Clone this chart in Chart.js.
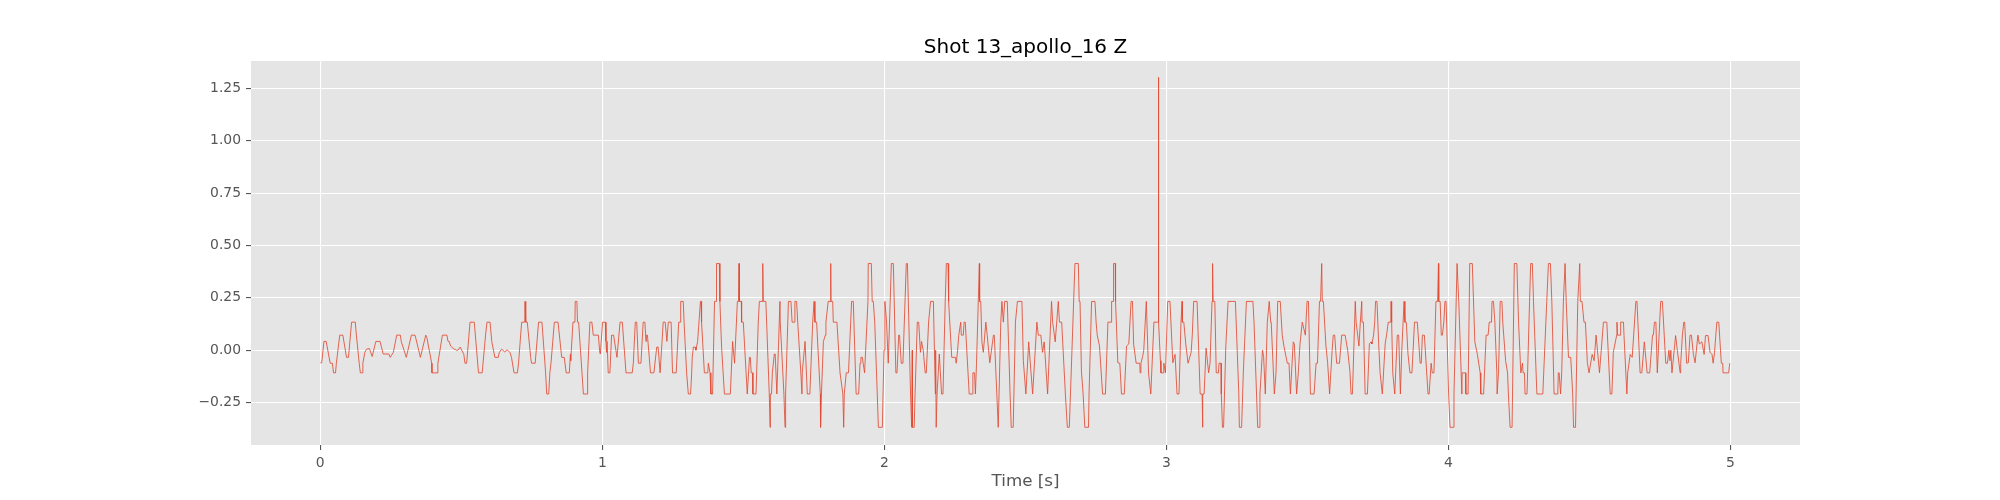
<!DOCTYPE html>
<html>
<head>
<meta charset="utf-8">
<title>Shot 13_apollo_16 Z</title>
<script src="https://cdn.jsdelivr.net/npm/chart.js@4"></script>
<style>
  html, body { margin: 0; padding: 0; background: #fff; }
  canvas { display: block; }
</style>
</head>
<body>
<canvas id="myChart" width="2000" height="500"></canvas>
<script>
const chartTitle = "Shot 13_apollo_16 Z";
const xLabel = "Time [s]";
const xTicks = [0, 1, 2, 3, 4, 5];
const yTicks = [-0.25, 0, 0.25, 0.5, 0.75, 1, 1.25];
const yTickLabels = ["\u22120.25", "0.00", "0.25", "0.50", "0.75", "1.00", "1.25"];

const timeA = [
  0,.005,.013,.021,.035,.043,.047,.054,.057,.069,
  .080,.093,.100,.111,.124,.128,.138,.142,.149,.151,
  .158,.164,.174,.184,.197,.212,.223,.243,.248,.259,
  .271,.284,.287,.305,.323,.336,.355,.374,.378,.395,
  .396,.415,.417,.433,.449,.453,.457,.462,.472,.483,
  .488,.496,.509,.513,.519,.531,.546,.561,.574,.586,
  .591,.602,.608,.619,.631,.635,.643,.654,.663,.673,
  .678,.687,.699,.703,.714,.725,.726,.728,.729,.734,
  .746,.749,.762,.774,.786,.799,.803,.810,.814,.818,
  .830,.843,.856,.865,.872,.883,.887,.888,.896,.903,
  .904,.910,.912,.916,.928,.933,.946,.948,.956,.963,
  .968,.986,.991,.993,1.001,1.011,1.013,1.015,1.017,1.021,
  1.027,1.033,1.040,1.052,1.063,1.071,1.084,1.106,1.110,1.117,
  1.122,1.128,1.137,1.145,1.151,1.155,1.156,1.160,1.171,1.183,
  1.193,1.198
];
const ampA = [
  -.06,-.06,.042,.042,-.062,-.062,-.108,-.108,-.062,.072,
  .072,-.034,-.034,.134,.134,.072,-.062,-.108,-.108,-.062,
  -.01,.005,.008,-.03,.042,.042,-.018,-.018,-.034,-.01,
  .072,.072,.042,-.034,.072,.072,-.034,.072,.06,-.062,
  -.108,-.108,-.062,.072,.072,.042,.042,.02,.008,0,
  0,.015,-.02,-.062,-.062,.134,.134,-.108,-.108,.072,
  .134,.134,.042,-.034,-.034,-.01,.005,-.008,.002,-.012,
  -.034,-.108,-.108,-.062,.134,.134,.233,.233,.134,.134,
  -.034,-.062,-.062,.134,.134,-.108,-.209,-.209,-.108,-.062,
  .134,.134,-.034,-.034,-.108,-.108,-.02,-.05,.134,.134,
  .233,.233,.134,.134,-.108,-.209,-.209,-.108,.134,.134,
  .072,.072,-.01,-.018,.134,.134,.042,-.01,.042,-.108,
  -.108,.072,.072,-.034,.134,.134,-.108,-.108,-.062,.134,
  .134,-.062,-.062,.134,.134,.042,.072,.072,-.108,-.108,
  .015,.015
];

const timeB = [
  1.205,1.216,1.223,1.229,1.234,1.244,1.249,1.262,1.271,1.277,
  1.278,1.287,1.290,1.299,1.305,1.313,1.317,1.319,1.323,1.329,
  1.332,1.338,1.348,1.350,1.352,1.362,1.374,1.376,1.378,1.382,
  1.385,1.391,1.398,1.404,1.405,1.415,1.417,1.423,1.433,1.454,
  1.462,1.463,1.469,1.479,1.483,1.485,1.486,1.493,1.494,1.500,
  1.514,1.522,1.525,1.528,1.533,1.534,1.545,1.553,1.557,1.567,
  1.569,1.571,1.580,1.592,1.595,1.596,1.600,1.603,1.610,1.613,
  1.619,1.630,1.631,1.644,1.648,1.650,1.660,1.669,1.673,1.681,
  1.683,1.689,1.693,1.704,1.708,1.709,1.719,1.727,1.736,1.746,
  1.751,1.754,1.760,1.773,1.774,1.777,1.784,1.791,1.793,1.801,
  1.808,1.810,1.811,1.817,1.819,1.832,1.843,1.853,1.856,1.858,
  1.865,1.873,1.884,1.890,1.900,1.909,1.914,1.917,1.922,1.930,
  1.942,1.943,1.954,1.957,1.961,1.966,1.975,1.979,1.993,1.999,
  2.002,2.008,2.014,2.025,2.032,2.041,2.045,2.051,2.054,2.060,
  2.066,2.078,2.082,2.093,2.097,2.099,2.100,2.106,2.109,2.117,
  2.122,2.128,2.132,2.138,2.145,2.149,2.157,2.164,2.174,2.181,
  2.182,2.184,2.187,2.195,2.203,2.208,2.216,2.220,2.226,2.228,
  2.239,2.252,2.255,2.260,2.264,2.271,2.273,2.280,2.283,2.287,
  2.301,2.312,2.314,2.320,2.323,2.327,2.337,2.338,2.342,2.346,
  2.351,2.360,2.365,2.374,2.387,2.390,2.404,2.413,2.417,2.422,
  2.427,2.436,2.446,2.450,2.457,2.465,2.472,2.488,2.493,2.502,
  2.512,2.526,2.541,2.546,2.555,2.561,2.567,2.579,2.593,2.597,
  2.606,2.617,2.621,2.629,2.642,2.649,2.656,2.676,2.688,2.691
];
const ampB = [
  -.108,.134,.134,.042,.134,.134,-.108,-.108,.134,.134,
  .233,.233,.134,-.108,-.209,-.209,-.108,-.034,.015,.015,
  0,.042,.233,.233,.134,-.108,-.108,-.062,-.062,-.108,
  -.209,-.209,.233,.233,.414,.414,.233,.015,-.209,-.209,
  .042,.042,-.062,.233,.233,.414,.233,.233,.134,.134,
  -.209,-.034,-.034,-.108,-.108,-.209,-.209,.134,.233,.233,
  .414,.233,.233,-.209,-.368,-.209,-.209,-.108,-.018,-.018,
  -.209,.233,.134,-.209,-.368,-.209,.233,.233,.134,.134,
  .233,.233,.134,-.108,-.209,-.108,.042,-.209,-.209,.134,
  .233,.134,.134,-.209,-.368,-.209,.042,.072,.134,.233,
  .233,.414,.233,.233,.134,.134,-.108,-.209,-.368,-.209,
  -.108,-.108,.233,.233,-.209,-.209,-.062,-.034,-.034,-.108,
  .233,.414,.414,.233,.233,.134,-.209,-.368,-.368,0,
  .233,.134,-.062,.414,.414,-.108,-.108,.072,.072,-.062,
  -.062,.414,.414,-.209,-.368,0,-.368,-.368,-.209,.134,
  .134,-.01,.042,0,-.108,-.108,.134,.233,.233,-.209,
  0,-.368,-.209,-.018,-.209,-.209,.233,.414,.414,.233,
  -.034,-.034,-.062,0,.072,.134,.072,.072,.134,.134,
  -.209,-.209,-.108,-.108,-.209,-.062,.414,.233,.233,.04,
  -.01,.134,.07,-.06,.072,.072,-.368,.134,.233,.134,
  .233,.233,-.209,-.368,-.368,.134,.233,.233,-.05,-.209,
  .04,-.209,.134,.072,.072,-.01,.04,-.209,.233,.134,
  .04,.233,.134,.134,-.209,-.368,-.368,.414,.414,.233
];

const timeC = [
  2.694,2.699,2.705,2.711,2.724,2.726,2.735,2.747,2.751,2.755,
  2.763,2.774,2.784,2.793,2.804,2.806,2.812,2.813,2.819,2.820,
  2.828,2.835,2.837,2.841,2.851,2.859,2.867,2.875,2.880,2.884,
  2.893,2.906,2.907,2.910,2.916,2.920,2.929,2.937,2.945,2.956,
  2.968,2.971,2.972,2.973,2.979,2.981,2.990,2.991,2.997,3.005,
  3.013,3.023,3.031,3.038,3.045,3.052,3.056,3.057,3.062,3.069,
  3.077,3.088,3.092,3.097,3.109,3.120,3.127,3.128,3.130,3.134,
  3.141,3.150,3.155,3.162,3.164,3.166,3.172,3.177,3.185,3.187,
  3.194,3.195,3.199,3.203,3.211,3.219,3.245,3.257,3.259,3.267,
  3.273,3.284,3.307,3.311,3.324,3.329,3.332,3.341,3.345,3.351,
  3.358,3.365,3.370,3.372,3.383,3.389,3.395,3.404,3.411,3.417,
  3.429,3.435,3.440,3.450,3.454,3.462,3.468,3.474,3.482,3.493,
  3.499,3.504,3.511,3.524,3.531,3.536,3.543,3.547,3.551,3.553,
  3.557,3.566,3.572,3.579,3.588,3.592,3.597,3.604,3.614,3.622,
  3.634,3.643,3.651,3.655,3.660,3.670,3.673,3.676,3.683,3.688,
  3.693,3.694,3.699,3.705,3.713,3.720,3.726,3.729,3.735,3.739,
  3.742,3.747,3.753,3.758,3.766,3.776,3.781,3.787,3.796,3.797,
  3.799,3.803,3.810,3.819,3.824,3.830,3.835,3.843,3.846,3.851,
  3.857,3.864,3.871,3.880,3.890,3.900,3.904,3.908,3.915,3.928,
  3.932,3.939,3.942,3.943,3.949,3.956,3.962,3.965,3.966,3.971,
  3.975,3.979,3.984,3.988,3.992
];
const ampC = [
  .233,-.1,-.209,-.368,-.368,-.209,.233,.233,.134,.072,
  .02,-.209,-.209,.134,.134,.233,.233,.414,.414,.233,
  -.06,-.062,-.108,-.209,-.209,.02,.03,.233,.233,.03,
  -.062,-.062,-.108,-.062,-.03,0,.233,-.108,-.209,.134,
  .134,.134,1.303,.134,-.05,-.108,-.108,-.062,-.108,.233,
  .233,-.06,-.02,-.209,-.209,.134,.233,.134,.134,.03,
  -.062,-.01,.072,.233,.233,-.209,-.209,-.368,-.209,-.209,
  .01,-.108,-.062,.233,.414,.233,.233,-.108,-.108,-.062,
  -.062,-.209,-.368,-.368,.02,.233,.233,-.209,-.368,-.368,
  -.108,.233,.233,.134,-.368,-.368,-.209,0,-.03,-.209,
  .134,.233,.134,.134,-.209,-.108,.233,.233,.072,.02,
  -.062,-.062,-.209,.04,.03,-.209,-.108,.03,.134,.072,
  .233,.233,-.209,-.209,-.062,-.062,.233,.233,.414,.233,
  .233,.02,-.06,-.209,0,.072,.072,-.062,-.062,.072,
  .072,0,-.1,-.209,-.209,.233,.134,.134,.02,.134,
  .233,.134,.134,-.209,-.209,.03,.04,.03,.072,.134,
  .233,.233,.03,-.108,-.209,.03,.072,.134,.134,.233,
  .134,-.108,-.209,.072,.072,-.209,0,.233,.134,.134,
  -.02,-.108,-.108,.134,.134,-.062,-.062,.072,.072,-.209,
  -.209,-.062,-.062,-.108,-.108,.233,.233,.414,.233,.233,
  .072,.072,.134,.233,.233
];

const timeD = [
  4.001,4.006,4.018,4.020,4.031,4.033,4.037,4.048,4.049,4.061,
  4.062,4.070,4.076,4.085,4.094,4.103,4.113,4.115,4.125,4.134,
  4.141,4.145,4.153,4.155,4.160,4.165,4.172,4.173,4.178,4.184,
  4.190,4.193,4.203,4.210,4.213,4.219,4.226,4.234,4.243,4.249,
  4.257,4.263,4.265,4.270,4.272,4.279,4.288,4.292,4.298,4.302,
  4.314,4.335,4.349,4.355,4.362,4.367,4.375,4.388,4.390,4.393,
  4.398,4.402,4.408,4.414,4.418,4.426,4.434,4.441,4.444,4.451,
  4.453,4.459,4.466,4.468,4.474,4.481,4.486,4.493,4.499,4.510,
  4.517,4.524,4.536,4.550,4.562,4.574,4.580,4.585,4.597,4.598,
  4.600,4.609,4.611,4.621,4.623,4.633,4.636,4.645,4.652,4.665,
  4.669,4.680,4.686,4.695,4.705,4.714,4.724,4.727,4.731,4.736,
  4.741,4.753,4.759,4.771,4.777,4.782,4.786,4.789,4.793,4.806,
  4.812,4.822,4.824,4.830,4.835,4.838,4.845,4.851,4.857,4.862,
  4.869,4.875,4.885,4.890,4.899,4.907,4.912,4.921,4.928,4.935,
  4.939,4.944,4.952,4.959,4.968,4.973,4.974,4.994,4.998
];
const ampD = [
  -.209,-.368,-.368,-.209,.414,.414,.233,-.209,-.108,-.108,
  -.209,-.209,.414,.414,.04,-.02,-.108,-.209,-.209,.072,
  .072,.134,.134,.233,.233,.134,-.108,-.209,-.108,.233,
  .233,.134,-.05,-.108,-.209,-.368,-.368,.414,.414,.134,
  -.108,-.062,-.108,-.108,-.209,-.209,.233,.414,.414,.233,
  -.209,-.209,.233,.414,.414,.233,-.209,-.209,-.108,-.108,
  -.209,-.108,.233,.414,.233,-.034,-.034,-.209,-.368,-.368,
  -.209,.233,.414,.233,.233,.134,.134,-.06,-.108,-.02,
  -.05,.072,-.108,.134,.134,-.209,-.209,-.01,.072,.134,
  .072,.072,.134,.134,.07,-.209,-.108,-.02,-.034,.233,
  .233,-.108,-.108,.04,-.108,-.108,.072,.072,.134,.134,
  -.108,.233,.233,-.062,-.062,0,-.05,0,-.108,.07,
  0,-.108,-.062,.072,.134,.134,-.062,-.06,.072,.072,
  -.02,-.06,.072,.03,.04,-.02,.07,.07,-.01,-.02,
  -.062,-.01,.134,.134,-.062,-.062,-.108,-.108,-.062
];

const times = [...timeA, ...timeB, ...timeC, ...timeD];
const amps = [...ampA, ...ampB, ...ampC, ...ampD];
const points = times.map((t, i) => ({ x: t, y: amps[i] }));

// grey panel behind the grid, like the ggplot style
const panelBackground = {
  id: "panelBackground",
  beforeDraw(chart) {
    const a = chart.chartArea;
    chart.ctx.save();
    chart.ctx.fillStyle = "#E5E5E5";
    chart.ctx.fillRect(a.left, a.top, a.right - a.left, a.bottom - a.top);
    chart.ctx.restore();
  }
};

const fontFamily = "'DejaVu Sans', sans-serif";

new Chart(document.getElementById("myChart"), {
  type: "scatter",
  data: {
    datasets: [{
      data: points,
      showLine: true,
      borderColor: "#E24A33",
      borderWidth: 0.85,
      pointRadius: 0,
      tension: 0,
      fill: false
    }]
  },
  options: {
    responsive: false,
    animation: false,
    devicePixelRatio: 1,
    layout: { padding: { left: 0, right: 200, top: 0, bottom: 0 } },
    plugins: {
      legend: { display: false },
      tooltip: { enabled: false },
      title: {
        display: true,
        text: chartTitle,
        fullSize: false,
        color: "#000000",
        font: { family: fontFamily, size: 20, weight: "normal" },
        padding: { top: 36, bottom: 1 }
      }
    },
    scales: {
      x: {
        type: "linear",
        min: -0.2457,
        max: 5.247,
        afterBuildTicks: (axis) => { axis.ticks = xTicks.map(v => ({ value: v })); },
        afterFit: (axis) => { axis.height = 55; },
        grid: { color: "#FFFFFF", lineWidth: 1.1, tickColor: "#555555", tickWidth: 1.1, tickLength: 5 },
        border: { display: false },
        ticks: {
          color: "#555555",
          font: { family: fontFamily, size: 13.9 },
          padding: 5,
          maxRotation: 0,
          autoSkip: false,
          callback: (v) => String(v)
        },
        title: {
          display: true,
          text: xLabel,
          color: "#555555",
          font: { family: fontFamily, size: 16.7 },
          padding: { top: 4, bottom: 8 }
        }
      },
      y: {
        min: -0.4525,
        max: 1.381,
        afterBuildTicks: (axis) => { axis.ticks = yTicks.map(v => ({ value: v })); },
        afterFit: (axis) => { axis.width = 251; },
        grid: { color: "#FFFFFF", lineWidth: 1.1, tickColor: "#555555", tickWidth: 1.1, tickLength: 5 },
        border: { display: false },
        ticks: {
          color: "#555555",
          font: { family: fontFamily, size: 13.9 },
          padding: 5,
          autoSkip: false,
          callback: (v) => yTickLabels[yTicks.indexOf(v)]
        }
      }
    }
  },
  plugins: [panelBackground]
});
</script>
</body>
</html>
